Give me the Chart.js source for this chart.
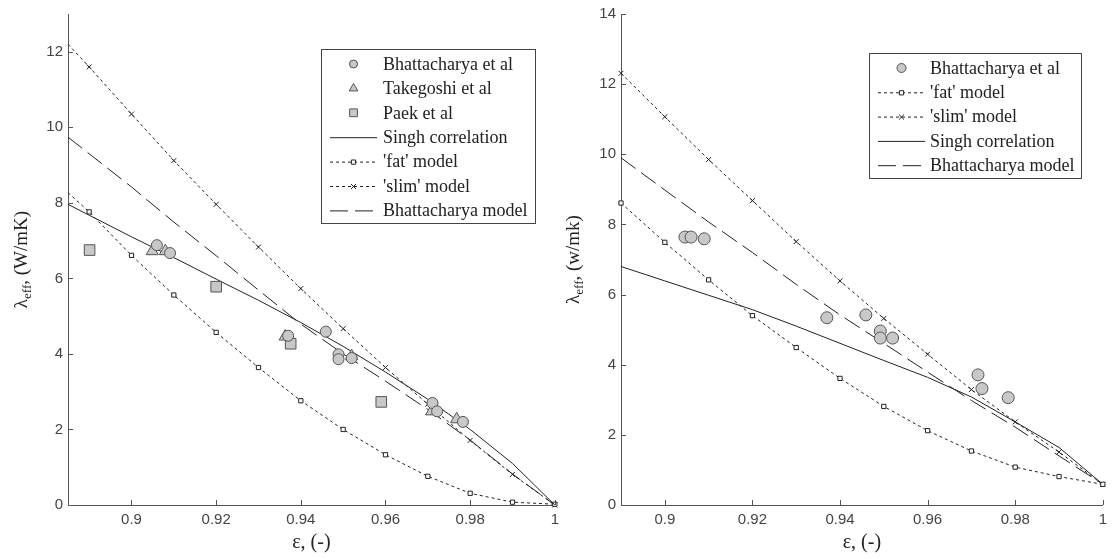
<!DOCTYPE html>
<html>
<head>
<meta charset="utf-8">
<script src="https://cdn.jsdelivr.net/npm/chart.js@4/dist/chart.umd.min.js"></script>
<style>
  body { margin: 0; background: #fff; width: 1113px; height: 559px; overflow: hidden; position: relative; }
  #wrapA { position: absolute; left: 0; top: 0; width: 565px; height: 559px; }
  #wrapB { position: absolute; left: 556px; top: 0; width: 557px; height: 559px; }
</style>
</head>
<body>
<div id="wrapA"><canvas id="chartA"></canvas></div>
<div id="wrapB"><canvas id="chartB"></canvas></div>
<script>
// ---- left panel data ----
const epsModelA = [0.885, 0.89, 0.90, 0.91, 0.92, 0.93, 0.94, 0.95, 0.96, 0.97, 0.98, 0.99, 1.0];
const fatA = [8.27, 7.76, 6.61, 5.56, 4.57, 3.64, 2.76, 2.0, 1.33, 0.76, 0.31, 0.075, 0.02];
const slimA = [12.2, 11.6, 10.35, 9.12, 7.96, 6.83, 5.73, 4.67, 3.64, 2.67, 1.71, 0.81, 0.0];
const epsLineA = [0.885, 0.90, 0.91, 0.92, 0.93, 0.94, 0.95, 0.96, 0.97, 0.98, 0.99, 1.0];
const singhA = [7.96, 7.1, 6.55, 5.98, 5.42, 4.83, 4.2, 3.52, 2.8, 2.0, 1.1, 0.0];
const bhattModelA = [9.74, 8.42, 7.49, 6.6, 5.69, 4.79, 4.0, 3.28, 2.53, 1.72, 0.82, 0.0];
const bhattEpsA = [0.906, 0.9091, 0.937, 0.9459, 0.9489, 0.9489, 0.952, 0.9711, 0.9722, 0.9783];
const bhattValA = [6.88, 6.67, 4.48, 4.59, 3.99, 3.86, 3.89, 2.7, 2.48, 2.2];
const takeEpsA = [0.9049, 0.908, 0.9363, 0.952, 0.9709, 0.9768];
const takeValA = [6.72, 6.72, 4.46, 3.94, 2.48, 2.27];
const paekEpsA = [0.8901, 0.92, 0.9376, 0.959];
const paekValA = [6.75, 5.78, 4.27, 2.73];

// ---- right panel data ----
const epsB = [0.89, 0.90, 0.91, 0.92, 0.93, 0.94, 0.95, 0.96, 0.97, 0.98, 0.99, 1.0];
const fatB = [8.61, 7.49, 6.42, 5.40, 4.49, 3.61, 2.81, 2.12, 1.54, 1.08, 0.81, 0.59];
const slimB = [12.31, 11.07, 9.85, 8.68, 7.51, 6.39, 5.32, 4.30, 3.29, 2.37, 1.51, 0.59];
const singhB = [6.80, 6.39, 5.98, 5.57, 5.10, 4.61, 4.12, 3.64, 3.08, 2.37, 1.64, 0.59];
const bhattModelB = [9.90, 8.98, 8.07, 7.20, 6.29, 5.42, 4.61, 3.79, 2.98, 2.22, 1.40, 0.59];
const bhattEpsB = [0.9046, 0.906, 0.909, 0.937, 0.9459, 0.9492, 0.9492, 0.952, 0.9715, 0.9724, 0.9784];
const bhattValB = [7.64, 7.64, 7.59, 5.34, 5.42, 4.96, 4.76, 4.76, 3.71, 3.32, 3.06];

// ---- ticks ----
const xTicks = [0.9, 0.92, 0.94, 0.96, 0.98, 1.0];
const xTickLabels = ['0.9', '0.92', '0.94', '0.96', '0.98', '1'];
const yTicksA = [0, 2, 4, 6, 8, 10, 12];
const yTicksB = [0, 2, 4, 6, 8, 10, 12, 14];

const pts = (xs, ys) => xs.map((x, i) => ({ x: x, y: ys[i] }));

const INK = '#222';
const MARK_FILL = '#c8c8c8';
const MARK_EDGE = '#555';

function scatterSet(label, xs, ys, style, r, lr) {
  return {
    label: label, data: pts(xs, ys), showLine: false, pointStyle: style,
    pointRadius: r, backgroundColor: MARK_FILL, borderColor: MARK_EDGE,
    pointBorderWidth: 1, clip: false, legendR: lr
  };
}
function lineSet(label, xs, ys, dash, style, r, hideFirst) {
  return {
    label: label, data: pts(xs, ys), showLine: true, borderColor: INK, borderWidth: 1,
    borderDash: dash, pointStyle: style || 'circle',
    pointRadius: style ? xs.map((_, i) => (hideFirst && i === 0 ? 0 : r)) : 0,
    pointBackgroundColor: '#fff', pointBorderColor: INK, pointBorderWidth: 1,
    clip: false, legendR: r, fill: false, tension: 0
  };
}

function drawMark(ctx, ds, x, y, r) {
  if (!ds.pointStyle || !r) return;
  ctx.save();
  ctx.setLineDash([]);
  ctx.fillStyle = ds.showLine ? '#fff' : MARK_FILL;
  ctx.strokeStyle = ds.showLine ? INK : MARK_EDGE;
  ctx.lineWidth = 1;
  Chart.helpers.drawPoint(ctx, { pointStyle: ds.pointStyle, radius: r, rotation: 0, borderWidth: 1 }, x, y);
  ctx.restore();
}

const framePlugin = {
  id: 'frame',
  afterDraw(chart, args, opts) {
    const { ctx, chartArea: a, scales } = chart;
    const x = scales.x, y = scales.y;
    ctx.save();
    // inward tick marks
    ctx.strokeStyle = '#555';
    ctx.lineWidth = 1;
    ctx.beginPath();
    x.ticks.forEach(t => {
      const px = Math.round(x.getPixelForValue(t.value)) + 0.5;
      ctx.moveTo(px, a.bottom); ctx.lineTo(px, a.bottom - 5);
    });
    y.ticks.forEach(t => {
      const py = Math.round(y.getPixelForValue(t.value)) + 0.5;
      ctx.moveTo(a.left, py); ctx.lineTo(a.left + 5, py);
    });
    ctx.stroke();

    // x title
    ctx.fillStyle = INK;
    ctx.font = '20px "Liberation Serif"';
    ctx.textAlign = 'center';
    ctx.textBaseline = 'middle';
    ctx.fillText('ε, (-)', (a.left + a.right) / 2, 543);

    // y title with subscript
    ctx.save();
    ctx.translate(opts.yTitleX, (a.top + a.bottom) / 2);
    ctx.rotate(-Math.PI / 2);
    ctx.textAlign = 'left';
    ctx.textBaseline = 'alphabetic';
    const big = '19px "Liberation Serif"', small = '13px "Liberation Serif"';
    ctx.font = big; const w1 = ctx.measureText('λ').width;
    ctx.font = small; const w2 = ctx.measureText('eff').width;
    ctx.font = big; const w3 = ctx.measureText(opts.yUnit).width;
    const x0 = -(w1 + w2 + w3) / 2;
    ctx.font = big; ctx.fillText('λ', x0, 6);
    ctx.font = small; ctx.fillText('eff', x0 + w1, 10);
    ctx.font = big; ctx.fillText(opts.yUnit, x0 + w1 + w2, 6);
    ctx.restore();

    // boxed legend
    const L = opts.legend;
    ctx.fillStyle = '#fff';
    ctx.fillRect(L.x, L.y, L.w, L.h);
    ctx.strokeStyle = '#444';
    ctx.strokeRect(L.x + 0.5, L.y + 0.5, L.w, L.h);
    ctx.font = '18px "Liberation Serif"';
    ctx.textAlign = 'left';
    ctx.textBaseline = 'middle';
    L.order.forEach((di, k) => {
      const ds = chart.data.datasets[di];
      const ry = L.y + L.first + k * L.step;
      const mid = (L.s0 + L.s1) / 2;
      if (ds.showLine) {
        ctx.save();
        ctx.strokeStyle = INK;
        ctx.lineWidth = 1;
        ctx.setLineDash(ds.borderDash || []);
        ctx.beginPath();
        ctx.moveTo(L.s0, ry + 0.5); ctx.lineTo(L.s1, ry + 0.5);
        ctx.stroke();
        ctx.restore();
        drawMark(ctx, ds, mid, ry + 0.5, Array.isArray(ds.pointRadius) ? ds.legendR : ds.pointRadius);
      } else {
        drawMark(ctx, ds, mid, ry, ds.legendR);
      }
      ctx.fillStyle = INK;
      ctx.fillText(ds.label, L.tx, ry + 1);
    });
    ctx.restore();
  }
};

function scalesFor(yMax, yTicks, xMin, yWidth) {
  const tickFont = { family: '"Liberation Sans", Arial, sans-serif', size: 15 };
  return {
    x: {
      type: 'linear', min: xMin, max: 1.0,
      grid: { display: false, drawTicks: false },
      border: { display: true, color: '#555', width: 1 },
      afterBuildTicks: s => { s.ticks = xTicks.map(v => ({ value: v })); },
      afterFit: s => { s.height = 54; },
      ticks: { font: tickFont, color: '#444', padding: 6, maxRotation: 0, autoSkip: false,
               callback: (v, i) => xTickLabels[i] }
    },
    y: {
      type: 'linear', min: 0, max: yMax,
      grid: { display: false, drawTicks: false },
      border: { display: true, color: '#555', width: 1 },
      afterBuildTicks: s => { s.ticks = yTicks.map(v => ({ value: v })); },
      afterFit: s => { s.width = yWidth; },
      ticks: { font: tickFont, color: '#444', padding: 5, autoSkip: false,
               callback: v => String(v) }
    }
  };
}

new Chart('chartA', {
  type: 'scatter',
  data: {
    datasets: [
      scatterSet('Bhattacharya et al', bhattEpsA, bhattValA, 'circle', 5.5, 4),
      scatterSet('Takegoshi et al', takeEpsA, takeValA, 'triangle', 7, 5),
      scatterSet('Paek et al', paekEpsA, paekValA, 'rect', 7.5, 5.5),
      lineSet('Singh correlation', epsLineA, singhA, []),
      lineSet("'fat' model", epsModelA, fatA, [3, 3], 'rect', 3, true),
      lineSet("'slim' model", epsModelA, slimA, [3, 3], 'crossRot', 3.5, true),
      lineSet('Bhattacharya model', epsLineA, bhattModelA, [18, 7])
    ]
  },
  options: {
    responsive: true, maintainAspectRatio: false, animation: false,
    layout: { padding: { top: 12, right: 8, left: 0, bottom: 0 } },
    scales: scalesFor(13, yTicksA, 0.885, 68),
    plugins: {
      legend: { display: false }, tooltip: { enabled: false },
      frame: {
        yTitleX: 21, yUnit: ', (W/mK)',
        legend: { x: 321, y: 49, w: 214, h: 174, first: 15, step: 24.4, s0: 330, s1: 377, tx: 383,
                  order: [0, 1, 2, 3, 4, 5, 6] }
      }
    }
  },
  plugins: [framePlugin]
});

new Chart('chartB', {
  type: 'scatter',
  data: {
    datasets: [
      scatterSet('Bhattacharya et al', bhattEpsB, bhattValB, 'circle', 6, 4.5),
      lineSet("'fat' model", epsB, fatB, [3, 3], 'rect', 3, false),
      lineSet("'slim' model", epsB, slimB, [3, 3], 'crossRot', 3.5, false),
      lineSet('Singh correlation', epsB, singhB, []),
      lineSet('Bhattacharya model', epsB, bhattModelB, [18, 7])
    ]
  },
  options: {
    responsive: true, maintainAspectRatio: false, animation: false,
    layout: { padding: { top: 13, right: 8, left: 0, bottom: 0 } },
    scales: scalesFor(14, yTicksB, 0.89, 65),
    plugins: {
      legend: { display: false }, tooltip: { enabled: false },
      frame: {
        yTitleX: 17, yUnit: ', (w/mk)',
        legend: { x: 313, y: 53, w: 212, h: 125, first: 15, step: 24.3, s0: 322, s1: 369, tx: 374,
                  order: [0, 1, 2, 3, 4] }
      }
    }
  },
  plugins: [framePlugin]
});
</script>
</body>
</html>
